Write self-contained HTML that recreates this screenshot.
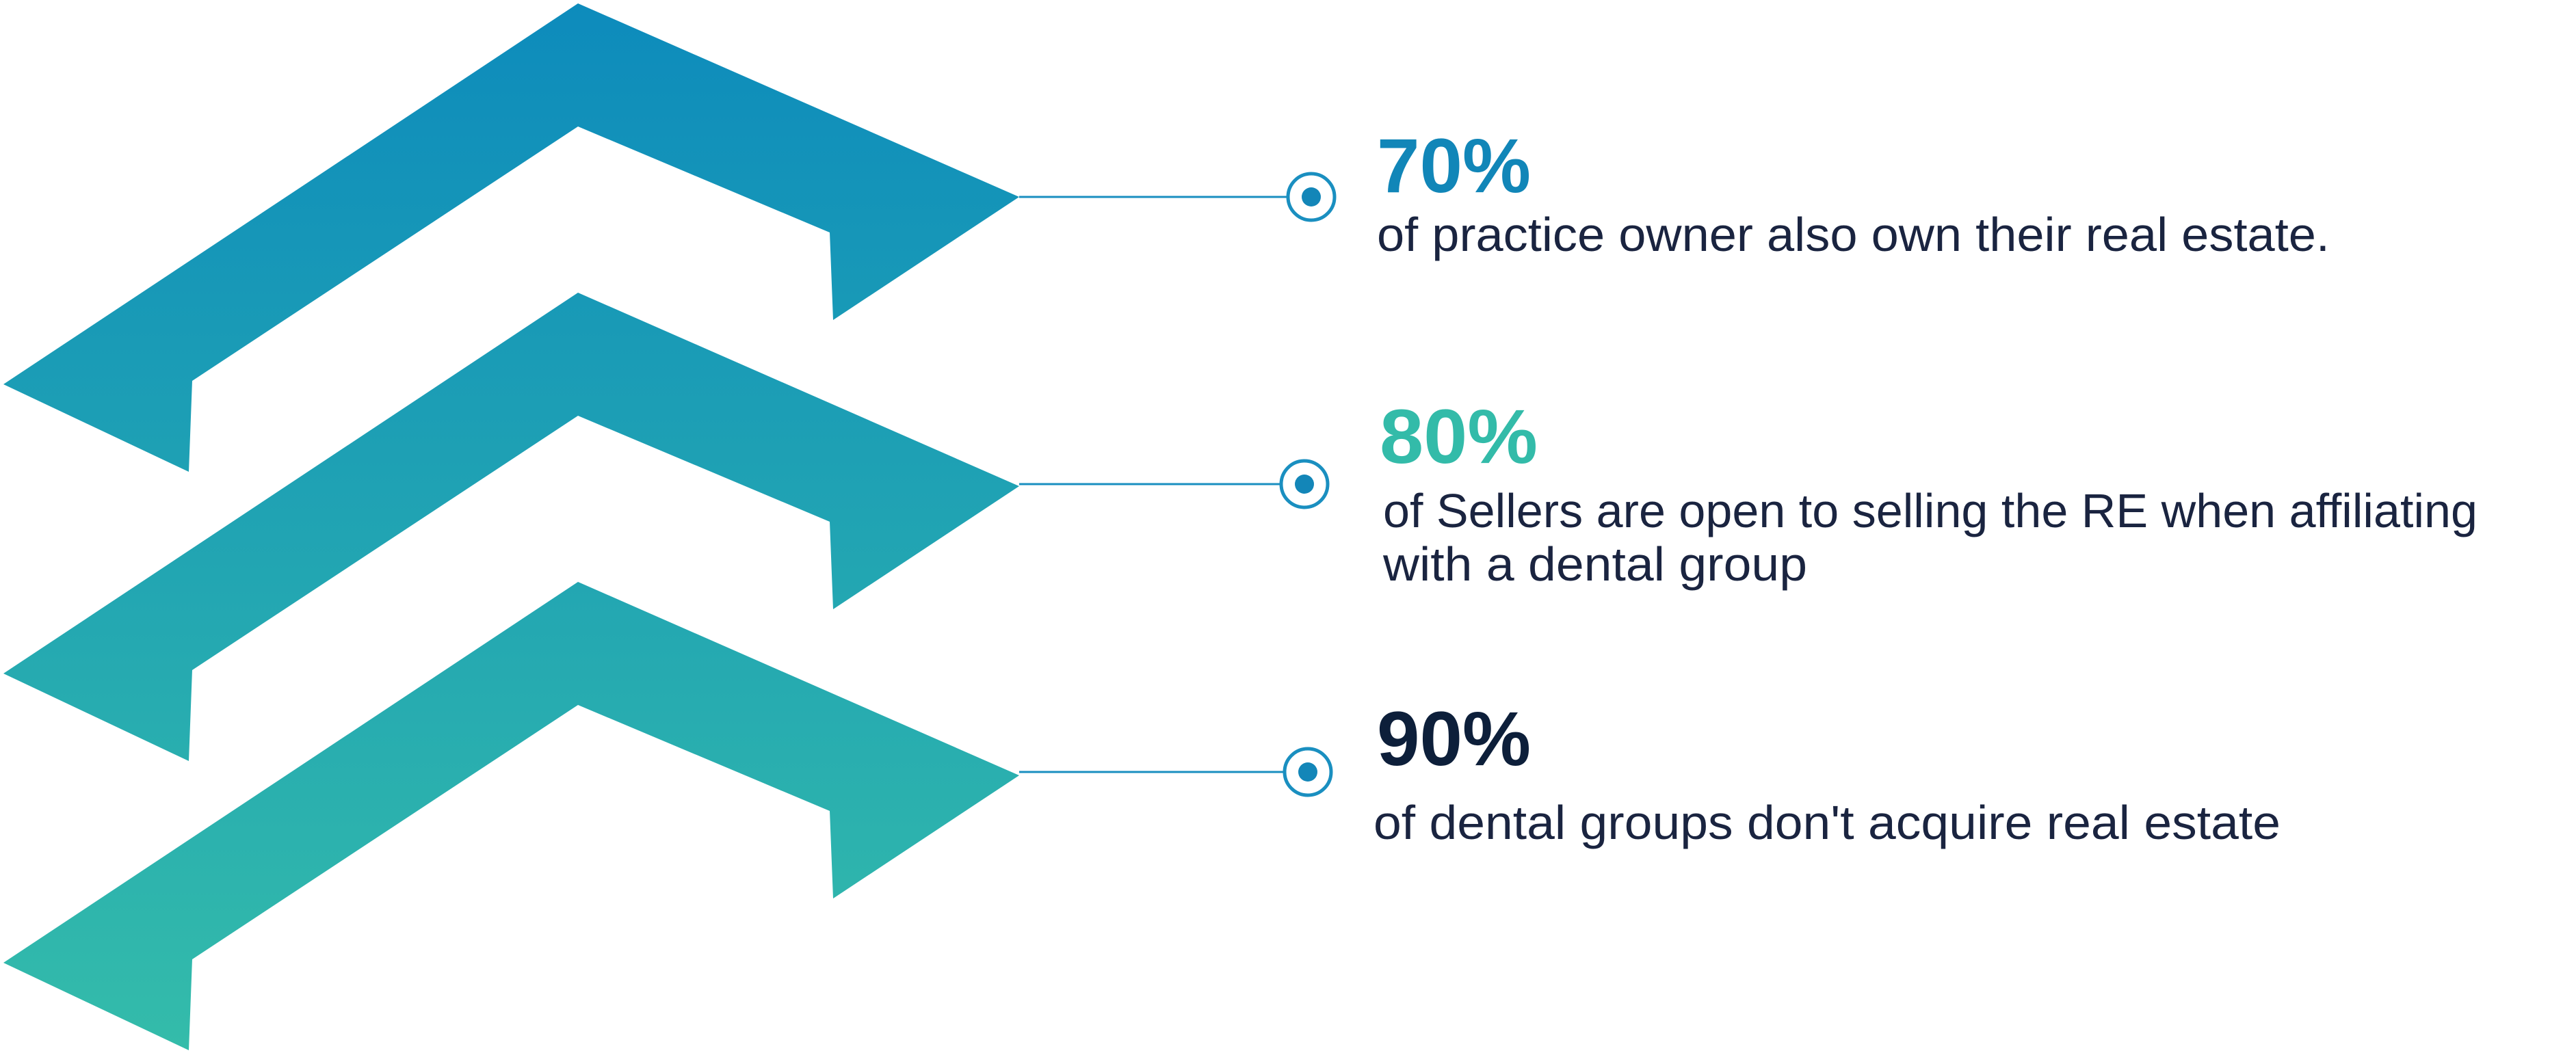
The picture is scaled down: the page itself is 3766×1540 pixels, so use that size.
<!DOCTYPE html>
<html><head><meta charset="utf-8"><style>html,body{margin:0;padding:0;background:#fff}svg{display:block}</style></head>
<body>
<svg width="3766" height="1540" viewBox="0 0 3766 1540" xmlns="http://www.w3.org/2000/svg">
<defs>
<linearGradient id="g" gradientUnits="userSpaceOnUse" x1="0" y1="0" x2="0" y2="1540">
<stop offset="0" stop-color="#0d8bbc"/><stop offset="1" stop-color="#34bcaa"/>
</linearGradient>
</defs>
<polygon points="845,5 1490,288 1218,468 1213,340 845,185 281,557 276,690 5,562" fill="url(#g)"/>
<polygon points="845,428 1490,711 1218,891 1213,763 845,608 281,980 276,1113 5,985" fill="url(#g)"/>
<polygon points="845,851 1490,1134 1218,1314 1213,1186 845,1031 281,1403 276,1536 5,1408" fill="url(#g)"/>
<g stroke="#1a8fc0" fill="none">
<line x1="1490" y1="288" x2="1884" y2="288" stroke-width="3"/>
<circle cx="1917" cy="288" r="34" stroke-width="5"/>
<line x1="1490" y1="708" x2="1874" y2="708" stroke-width="3"/>
<circle cx="1907" cy="708" r="34" stroke-width="5"/>
<line x1="1490" y1="1129" x2="1879" y2="1129" stroke-width="3"/>
<circle cx="1912" cy="1129" r="34" stroke-width="5"/>
</g>
<g fill="#1386b8"><circle cx="1917" cy="288" r="14"/><circle cx="1907" cy="708" r="14"/><circle cx="1912" cy="1129" r="14"/></g>
<g font-family="Liberation Sans, sans-serif">
<text x="2013" y="281" font-size="112" font-weight="bold" fill="#1186b8" textLength="225" lengthAdjust="spacingAndGlyphs">70%</text>
<text x="2013" y="367" font-size="70" fill="#1a2440" textLength="1393" lengthAdjust="spacingAndGlyphs">of practice owner also own their real estate.</text>
<text x="2017" y="677" font-size="112" font-weight="bold" fill="#33bba9" textLength="231" lengthAdjust="spacingAndGlyphs">80%</text>
<text x="2022" y="771" font-size="70" fill="#1a2440" textLength="1600" lengthAdjust="spacingAndGlyphs">of Sellers are open to selling the RE when affiliating</text>
<text x="2022" y="849" font-size="70" fill="#1a2440" textLength="620" lengthAdjust="spacingAndGlyphs">with a dental group</text>
<text x="2013" y="1119" font-size="112" font-weight="bold" fill="#0d1f3a" textLength="225" lengthAdjust="spacingAndGlyphs">90%</text>
<text x="2008" y="1227" font-size="70" fill="#1a2440" textLength="1326" lengthAdjust="spacingAndGlyphs">of dental groups don't acquire real estate</text>
</g>
</svg>
</body></html>
